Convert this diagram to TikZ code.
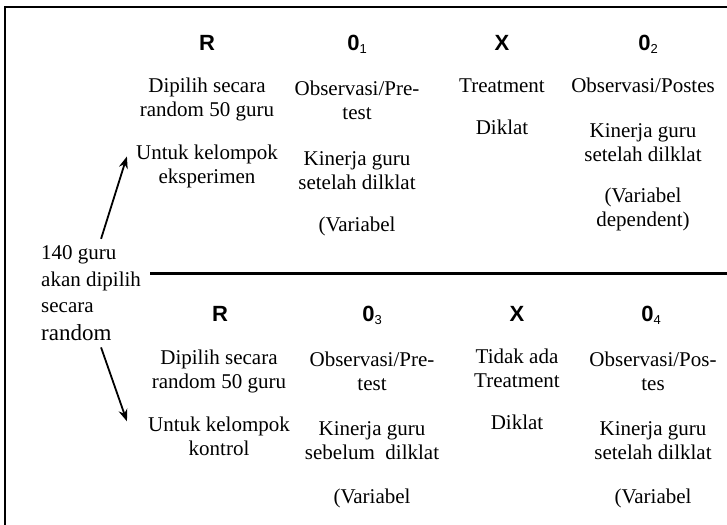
\documentclass[tikz,border=0pt]{standalone}
\usepackage{fontspec}
\setmainfont{Liberation Serif}
\newfontfamily\headfont{Liberation Sans}
\usetikzlibrary{arrows.meta,
                positioning, % For easy node-relative placements
               }
\tikzstyle{head} = [font=\headfont\bfseries\fontsize{22}{24}\selectfont, anchor=base, inner sep=0pt]
\tikzstyle{cell} = [font=\fontsize{21}{24}\selectfont, align=center, anchor=base, inner sep=0pt]
\tikzstyle{pick} = [-{Stealth[length=12pt,width=9pt]}, line width=1.8pt]
\newcommand{\sub}[1]{\raisebox{-3pt}{\fontsize{13}{13}\selectfont\mdseries #1}}

\begin{document}
\begin{tikzpicture}[x=1pt, y=-1pt]
  \useasboundingbox (0,0) rectangle (727,524);
  \clip (0,0) rectangle (727,524);
  \draw [line width=2pt] (4.5,7.5) rectangle (760,560);
  \draw [line width=3pt] (150,273) -- (727,273);

  % kelompok eksperimen (base = last line)
  \node (r_1) [head] at (207,51) {R};
  \node (o1_1) [head] at (357,51) {0\sub{1}};
  \node (x_1) [head] at (502,51) {X};
  \node (o2_1) [head] at (648,51) {0\sub{2}};
  \node (dp_1) [cell] at (207,116.5) {Dipilih secara\\random 50 guru};
  \node (ua_1) [cell] at (207,183.5) {Untuk kelompok\\eksperimen};
  \node (pre_1) [cell] at (357,119.5) {Observasi/Pre-\\test};
  \node (kg_1) [cell] at (357,189.5) {Kinerja guru\\setelah dilklat};
  \node (var_1) [cell] at (357,231.5) {(Variabel};
  \node (tr_1) [cell] at (502,92.5) {Treatment};
  \node (dk_1) [cell] at (502,134.5) {Diklat};
  \node (post_1) [cell] at (643,92.5) {Observasi/Postes};
  \node (kg2_1) [cell] at (643,161.5) {Kinerja guru\\setelah dilklat};
  \node (var2_1) [cell] at (643,226.5) {(Variabel\\dependent)};

  % kelompok kontrol
  \node (r_2) [head] at (220,321) {R};
  \node (o3_2) [head] at (372,321) {0\sub{3}};
  \node (x_2) [head] at (517,321) {X};
  \node (o4_2) [head] at (651,321) {0\sub{4}};
  \node (dp_2) [cell] at (219,388) {Dipilih secara\\random 50 guru};
  \node (ua_2) [cell] at (219,455.5) {Untuk kelompok\\kontrol};
  \node (pre_2) [cell] at (372,390.5) {Observasi/Pre-\\test};
  \node (kg_2) [cell] at (372,459.5) {Kinerja guru\\sebelum\ \ dilklat};
  \node (var_2) [cell] at (372,503.5) {(Variabel};
  \node (tr_2) [cell] at (517,387.5) {Tidak ada\\Treatment};
  \node (dk_2) [cell] at (517,429.5) {Diklat};
  \node (post_2) [cell] at (653,390.5) {Observasi/Pos-\\tes};
  \node (kg2_2) [cell] at (653,459.5) {Kinerja guru\\setelah dilklat};
  \node (var2_2) [cell] at (653,503.5) {(Variabel};

  % populasi
  \node (pool) [cell, align=left, anchor=base west] at (41,340)
    {140 guru\\[3.5pt]akan dipilih\\[2pt]secara\\[3.5pt]{\fontsize{23}{24}\selectfont random}};
  \draw [pick] ([xshift=10pt,yshift=6pt]pool.north) -- ([xshift=-9pt,yshift=10pt]ua_1.west);
  \draw [pick] ([xshift=10pt,yshift=-7pt]pool.south) -- ([xshift=-21pt,yshift=15pt]ua_2.west);
\end{tikzpicture}
\end{document}
